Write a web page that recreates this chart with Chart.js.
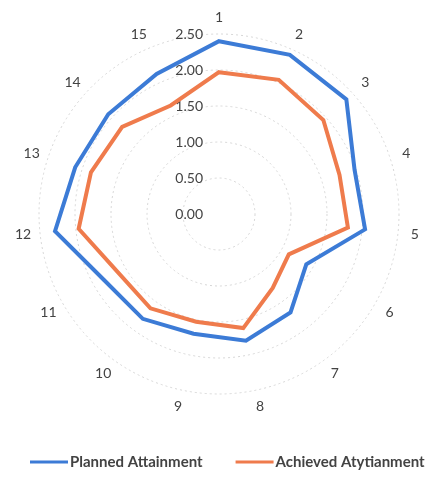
<!DOCTYPE html>
<html>
<head>
<meta charset="utf-8">
<script src="https://cdn.jsdelivr.net/npm/chart.js@4/dist/chart.umd.min.js"></script>
<style>
  html, body { margin: 0; padding: 0; background: #ffffff; }
  canvas { display: block; }
</style>
</head>
<body>
<canvas id="radar" width="430" height="479"></canvas>
<script>
// Criteria 1..15 around the radar
const categories = ['1', '2', '3', '4', '5', '6', '7', '8', '9', '10', '11', '12', '13', '14', '15'];

// Attainment scores per criterion
const plannedAttainment  = [2.40, 2.42, 2.38, 1.98, 2.04, 1.40, 1.69, 1.80, 1.70, 1.80, 1.84, 2.29, 2.10, 2.07, 2.13];
const achievedAttainment = [1.97, 2.04, 1.95, 1.76, 1.80, 1.12, 1.27, 1.62, 1.53, 1.62, 1.62, 1.96, 1.87, 1.81, 1.65];

// Radial axis ticks
const tickValues = [0, 0.5, 1, 1.5, 2, 2.5];

const seriesNames = ['Planned Attainment', 'Achieved Atytianment'];

const TEXT_COLOR = '#434343';
const FONT_FAMILY = 'Lato, "Open Sans", sans-serif';

// Tick labels sit just left of the vertical axis, category numbers around the rim
const radarText = {
  id: 'radarText',
  beforeDatasetsDraw(chart) {
    const r = chart.scales.r;
    const ctx = chart.ctx;
    ctx.save();
    ctx.fillStyle = TEXT_COLOR;
    ctx.font = '14px ' + FONT_FAMILY;
    ctx.textAlign = 'right';
    ctx.textBaseline = 'middle';
    tickValues.forEach(v => {
      const y = r.yCenter - r.getDistanceFromCenterForValue(v);
      ctx.fillText(v.toFixed(2), r.xCenter - 16, y);
    });
    ctx.textAlign = 'center';
    categories.forEach((label, i) => {
      const p = r.getPointPosition(i, r.drawingArea + 17);
      ctx.fillText(label, p.x, p.y);
    });
    ctx.restore();
  }
};

// Line-sample legend along the bottom
const lineLegend = {
  id: 'lineLegend',
  afterDraw(chart) {
    const ctx = chart.ctx;
    const sampleLen = 38, sampleGap = 2, itemGap = 33;
    const y = 462;
    let x = 30;
    ctx.save();
    ctx.font = 'bold 15px ' + FONT_FAMILY;
    ctx.textAlign = 'left';
    ctx.textBaseline = 'middle';
    chart.data.datasets.forEach(ds => {
      ctx.strokeStyle = ds.borderColor;
      ctx.lineWidth = 3;
      ctx.beginPath();
      ctx.moveTo(x, y);
      ctx.lineTo(x + sampleLen, y);
      ctx.stroke();
      x += sampleLen + sampleGap;
      ctx.fillStyle = TEXT_COLOR;
      ctx.fillText(ds.label, x, y);
      x += ctx.measureText(ds.label).width + itemGap;
    });
    ctx.restore();
  }
};

new Chart(document.getElementById('radar'), {
  type: 'radar',
  data: {
    labels: categories,
    datasets: [
      {
        label: seriesNames[0],
        data: plannedAttainment,
        borderColor: '#3c7bd6',
        borderWidth: 4,
        borderJoinStyle: 'miter',
        fill: false,
        pointRadius: 0
      },
      {
        label: seriesNames[1],
        data: achievedAttainment,
        borderColor: '#ef7b4c',
        borderWidth: 4,
        borderJoinStyle: 'miter',
        fill: false,
        pointRadius: 0
      }
    ]
  },
  options: {
    responsive: false,
    animation: false,
    layout: { padding: { left: 8, right: 0, top: 34, bottom: 85 } },
    plugins: {
      legend: { display: false },
      tooltip: { enabled: false }
    },
    scales: {
      r: {
        min: tickValues[0],
        max: tickValues[tickValues.length - 1],
        ticks: { display: false, stepSize: tickValues[1] - tickValues[0] },
        pointLabels: { display: false },
        angleLines: { display: false },
        grid: { circular: true, color: '#d6d6d6', lineWidth: 1 },
        border: { dash: [2, 3] }
      }
    }
  },
  plugins: [radarText, lineLegend]
});
</script>
</body>
</html>
